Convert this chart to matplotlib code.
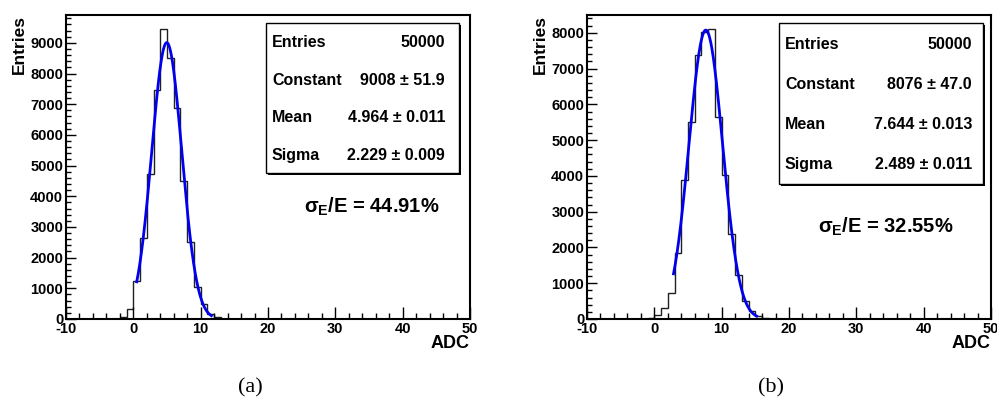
import numpy as np
import matplotlib
matplotlib.use("Agg")
import matplotlib.pyplot as plt
from matplotlib.patches import Rectangle
from matplotlib.ticker import MultipleLocator

plt.rcParams['font.family'] = ['Liberation Sans', 'DejaVu Sans']
plt.rcParams['mathtext.fontset'] = 'custom'
plt.rcParams['mathtext.rm'] = 'Liberation Sans:bold'
plt.rcParams['mathtext.it'] = 'Liberation Sans:bold'
plt.rcParams['mathtext.bf'] = 'Liberation Sans:bold'
plt.rcParams['axes.unicode_minus'] = False

# ---- data ----
bin_width = 1.0
x_range = (-10, 50)

first_bin_a = -3
counts_a = [5, 65, 325, 1247, 2625, 4718, 7451, 9436, 8514, 6866, 4501,
            2505, 1052, 488, 152, 50, 10, 5]
fit_a = dict(const=9008, mean=4.964, sigma=2.229, lo=0.5, hi=11.6)
stats_a = [("Entries", "50000"), ("Constant", "9008 \u00b1 51.9"),
           ("Mean", "4.964 \u00b1 0.011"), ("Sigma", "2.229 \u00b1 0.009")]
res_a = "44.91%"

first_bin_b = -1
counts_b = [28, 112, 298, 726, 1842, 3888, 5498, 7377, 8009, 8093, 5637,
            4028, 2372, 1237, 493, 214, 93, 30, 10, 5]
fit_b = dict(const=8076, mean=7.644, sigma=2.489, lo=2.85, hi=15.2)
stats_b = [("Entries", "50000"), ("Constant", "8076 \u00b1 47.0"),
           ("Mean", "7.644 \u00b1 0.013"), ("Sigma", "2.489 \u00b1 0.011")]
res_b = "32.55%"

captions = ["(a)", "(b)"]

W, H = 997, 399
fig = plt.figure(figsize=(W / 100, H / 100), dpi=100)


def fx(px):
    return px / W


def fy(py):
    return 1 - py / H


def panel(left, counts, first_bin, fit, stats, res, caption, box, sig_pos, val_off):
    right = left + 404
    top, bottom = 15, 319
    ax = fig.add_axes([fx(left), fy(bottom), fx(right - left), fy(top) - fy(bottom)])
    edges = first_bin + bin_width * np.arange(len(counts) + 1)
    ax.stairs(counts, edges, color='#202020', lw=1.0, baseline=None)
    xf = np.linspace(fit['lo'], fit['hi'], 300)
    yf = fit['const'] * np.exp(-0.5 * ((xf - fit['mean']) / fit['sigma']) ** 2)
    ax.plot(xf, yf, color='#0000ee', lw=2.0)
    ax.set_xlim(*x_range)
    ax.set_ylim(0, max(counts) * 1.05)
    ax.xaxis.set_major_locator(MultipleLocator(10))
    ax.xaxis.set_minor_locator(MultipleLocator(2))
    ax.yaxis.set_major_locator(MultipleLocator(1000))
    ax.yaxis.set_minor_locator(MultipleLocator(200))
    ax.tick_params(axis='both', which='both', direction='in', top=False, right=False,
                   width=1.0, colors='black')
    ax.tick_params(axis='x', which='major', length=9, pad=2, labelsize=10.5)
    ax.tick_params(axis='x', which='minor', length=4.5)
    ax.tick_params(axis='y', which='major', length=7, pad=2, labelsize=10.5)
    ax.tick_params(axis='y', which='minor', length=3.5)
    for lab in ax.get_xticklabels() + ax.get_yticklabels():
        lab.set_fontweight('bold')
    for s in ax.spines.values():
        s.set_linewidth(1.5)
    # axis titles
    fig.text(fx(left - 47), fy(top), "Entries", rotation=90, ha='center', va='top',
             fontsize=12.5, fontweight='bold')
    fig.text(fx(right), fy(344), "ADC", ha='right', va='center',
             fontsize=13, fontweight='bold')
    # stats box
    bx0, by0, bx1, by1 = box
    fig.patches.append(Rectangle((fx(bx0 + 2), fy(by1 + 2)), fx(bx1 - bx0), fy(by0) - fy(by1),
                                 transform=fig.transFigure, facecolor='black',
                                 edgecolor='black', lw=0, zorder=5))
    fig.patches.append(Rectangle((fx(bx0), fy(by1)), fx(bx1 - bx0), fy(by0) - fy(by1),
                                 transform=fig.transFigure, facecolor='white',
                                 edgecolor='black', lw=1.0, zorder=6))
    n = len(stats)
    rowh = (by1 - by0) / n
    for i, (k, v) in enumerate(stats):
        yc = by0 + rowh * (i + 0.5) + 1
        fig.text(fx(bx0 + 6), fy(yc), k, ha='left', va='center', fontsize=11.5,
                 fontweight='bold', zorder=7)
        fig.text(fx(bx1 - val_off), fy(yc), v, ha='right', va='center', fontsize=11.5,
                 fontweight='bold', zorder=7)
    fig.text(fx(sig_pos[0]), fy(sig_pos[1]), r'$\sigma_E$/E = ' + res, ha='center',
             va='center', fontsize=14.5, fontweight='bold')
    fig.text(fx(caption_x(left)), fy(388), caption, ha='center', va='center',
             fontsize=16, family='Liberation Serif')
    return ax


def caption_x(left):
    return left + 184


panel(66, counts_a, first_bin_a, fit_a, stats_a, res_a, captions[0],
      (266, 23, 459, 173), (372, 207), 14)
panel(587, counts_b, first_bin_b, fit_b, stats_b, res_b, captions[1],
      (779, 23, 983, 184), (886, 227), 11)

fig.savefig("out.png", dpi=100)
